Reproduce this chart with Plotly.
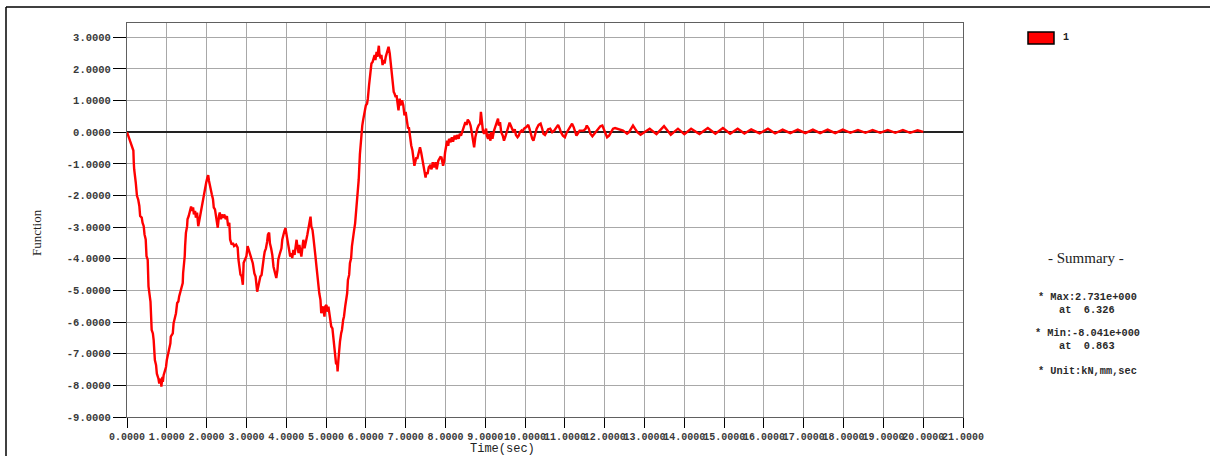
import plotly.graph_objects as go

# Time history of the member force (kN) against time (sec)
time_s = [
    0.00, 0.06, 0.10, 0.14, 0.16, 0.17, 0.18, 0.22, 0.25, 0.28, 0.31, 0.33, 0.37, 0.39, 0.42, 0.44,
    0.47, 0.49, 0.52, 0.54, 0.57, 0.59, 0.62, 0.65, 0.67, 0.70, 0.73, 0.75, 0.79, 0.81, 0.85, 0.863,
    0.89, 0.90, 0.92, 0.95, 0.98, 1.00, 1.04, 1.06, 1.09, 1.10, 1.13, 1.15, 1.17, 1.19, 1.21, 1.23,
    1.26, 1.29, 1.31, 1.34, 1.37, 1.40, 1.41, 1.43, 1.45, 1.46, 1.48, 1.51, 1.52, 1.55, 1.57, 1.61,
    1.63, 1.66, 1.68, 1.71, 1.73, 1.76, 1.79, 1.82, 1.84, 1.87, 1.89, 1.92, 1.94, 1.97, 1.99, 2.02,
    2.04, 2.06, 2.08, 2.11, 2.13, 2.16, 2.18, 2.21, 2.23, 2.26, 2.28, 2.31, 2.33, 2.36, 2.38, 2.42,
    2.44, 2.48, 2.51, 2.54, 2.57, 2.59, 2.63, 2.66, 2.69, 2.74, 2.78, 2.80, 2.83, 2.85, 2.88, 2.91,
    2.93, 2.96, 3.00, 3.03, 3.08, 3.12, 3.16, 3.20, 3.23, 3.27, 3.29, 3.32, 3.35, 3.38, 3.41, 3.44,
    3.46, 3.49, 3.52, 3.54, 3.57, 3.59, 3.62, 3.65, 3.68, 3.70, 3.73, 3.75, 3.78, 3.80, 3.83, 3.85,
    3.88, 3.90, 3.93, 3.95, 3.98, 4.00, 4.03, 4.05, 4.08, 4.10, 4.13, 4.15, 4.18, 4.21, 4.23, 4.26,
    4.28, 4.31, 4.33, 4.36, 4.38, 4.41, 4.43, 4.46, 4.48, 4.51, 4.53, 4.56, 4.58, 4.61, 4.63, 4.66,
    4.68, 4.71, 4.73, 4.76, 4.78, 4.81, 4.83, 4.86, 4.88, 4.91, 4.93, 4.96, 4.98, 5.01, 5.03, 5.06,
    5.08, 5.11, 5.13, 5.16, 5.18, 5.21, 5.23, 5.25, 5.28, 5.29, 5.31, 5.33, 5.35, 5.38, 5.40, 5.43,
    5.45, 5.48, 5.50, 5.53, 5.55, 5.58, 5.60, 5.63, 5.65, 5.68, 5.70, 5.73, 5.75, 5.78, 5.80, 5.82,
    5.85, 5.87, 5.89, 5.91, 5.93, 5.95, 5.97, 6.00, 6.03, 6.05, 6.08, 6.10, 6.13, 6.14, 6.17, 6.19,
    6.22, 6.24, 6.27, 6.29, 6.326, 6.34, 6.37, 6.39, 6.42, 6.45, 6.47, 6.50, 6.52, 6.55, 6.57, 6.60,
    6.62, 6.65, 6.67, 6.70, 6.72, 6.75, 6.77, 6.80, 6.82, 6.85, 6.87, 6.91, 6.94, 6.97, 7.00, 7.03,
    7.06, 7.08, 7.11, 7.14, 7.17, 7.19, 7.22, 7.24, 7.27, 7.29, 7.33, 7.36, 7.39, 7.41, 7.44, 7.46,
    7.50, 7.52, 7.55, 7.58, 7.61, 7.65, 7.68, 7.71, 7.75, 7.78, 7.82, 7.87, 7.90, 7.94, 7.97, 7.99,
    8.02, 8.04, 8.07, 8.09, 8.13, 8.16, 8.19, 8.23, 8.26, 8.29, 8.33, 8.36, 8.39, 8.43, 8.46, 8.50,
    8.53, 8.56, 8.60, 8.63, 8.66, 8.70, 8.72, 8.75, 8.77, 8.80, 8.83, 8.87, 8.89, 8.92, 8.94, 8.97,
    8.99, 9.02, 9.04, 9.07, 9.09, 9.13, 9.15, 9.18, 9.22, 9.25, 9.29, 9.32, 9.34, 9.37, 9.40, 9.44,
    9.47, 9.50, 9.54, 9.57, 9.61, 9.64, 9.67, 9.71, 9.74, 9.77, 9.81, 9.84, 9.87, 9.91, 9.94, 9.97,
    10.03, 10.08, 10.11, 10.14, 10.18, 10.21, 10.24, 10.29, 10.34, 10.39, 10.43, 10.46, 10.50, 10.53,
    10.58, 10.63, 10.68, 10.73, 10.78, 10.83, 10.87, 10.90, 10.95, 11.00, 11.05, 11.10, 11.15, 11.18,
    11.22, 11.25, 11.29, 11.32, 11.37, 11.42, 11.47, 11.52, 11.55, 11.60, 11.64, 11.69, 11.74, 11.79,
    11.84, 11.89, 11.94, 11.97, 12.02, 12.06, 12.11, 12.16, 12.21, 12.26, 12.31, 12.36, 12.41, 12.46,
    12.51, 12.56, 12.61, 12.66, 12.71, 12.76, 12.82, 12.90, 13.04, 13.13, 13.30, 13.49, 13.66, 13.84,
    14.00, 14.17, 14.38, 14.59, 14.78, 14.97, 15.15, 15.34, 15.51, 15.68, 15.89, 16.10, 16.28, 16.47,
    16.66, 16.85, 17.04, 17.23, 17.41, 17.60, 17.79, 17.98, 18.17, 18.36, 18.55, 18.73, 18.92, 19.11,
    19.30, 19.49, 19.67, 19.86, 20.00,
]

force_kn = [
    0.00, -0.21, -0.42, -0.53, -0.58, -0.95, -1.17, -1.59, -2.01, -2.12, -2.33, -2.65, -2.70, -2.86, -2.97, -3.23,
    -3.39, -3.92, -4.03, -4.87, -5.19, -5.35, -6.25, -6.36, -6.57, -7.20, -7.36, -7.63, -7.79, -7.94, -7.79, -8.041,
    -7.73, -7.89, -7.68, -7.57, -7.42, -7.20, -6.99, -6.89, -6.67, -6.46, -6.41, -6.36, -6.04, -5.93, -5.88, -5.72,
    -5.40, -5.35, -5.19, -5.03, -4.93, -4.77, -4.45, -4.24, -3.92, -3.60, -3.18, -2.97, -2.75, -2.65, -2.54, -2.35,
    -2.49, -2.38, -2.60, -2.49, -2.70, -2.54, -2.97, -2.75, -2.60, -2.44, -2.28, -2.12, -1.85, -1.69, -1.59, -1.43,
    -1.36, -1.54, -1.69, -1.80, -1.96, -2.12, -2.38, -2.44, -2.60, -2.75, -3.02, -2.65, -2.54, -2.75, -2.60, -2.70,
    -2.60, -2.75, -2.65, -2.97, -2.86, -3.39, -3.55, -3.50, -3.60, -3.55, -3.65, -4.03, -4.34, -4.50, -4.55, -4.82,
    -4.13, -4.03, -3.92, -3.60, -3.82, -3.98, -4.14, -4.46, -4.56, -5.04, -4.93, -4.77, -4.56, -4.51, -4.14, -3.93,
    -3.77, -3.67, -3.46, -3.24, -3.17, -3.51, -3.67, -3.88, -4.25, -4.35, -4.46, -4.61, -4.35, -4.03, -3.88, -3.82,
    -3.67, -3.40, -3.19, -3.14, -3.03, -3.19, -3.40, -3.56, -3.77, -3.93, -3.82, -3.98, -3.72, -3.88, -3.67, -3.40,
    -3.61, -3.82, -3.56, -3.77, -3.93, -3.61, -3.40, -3.67, -3.51, -3.40, -3.24, -3.03, -2.88, -2.67, -2.98, -3.09,
    -3.30, -3.56, -3.88, -4.25, -4.56, -4.98, -5.09, -5.30, -5.72, -5.51, -5.56, -5.83, -5.51, -5.46, -5.67, -5.51,
    -5.67, -5.83, -6.14, -6.20, -6.46, -6.93, -7.20, -7.30, -7.35, -7.56, -7.20, -6.77, -6.62, -6.35, -6.25, -5.93,
    -5.83, -5.51, -5.30, -5.09, -4.67, -4.51, -4.14, -3.98, -3.61, -3.40, -3.14, -2.88, -2.56, -2.14, -1.66, -1.51,
    -0.70, -0.32, -0.21, 0.21, 0.37, 0.53, 0.69, 0.85, 0.90, 1.06, 1.48, 1.69, 2.01, 2.17, 2.22, 2.33,
    2.44, 2.28, 2.54, 2.38, 2.731, 2.49, 2.33, 2.44, 2.12, 2.28, 2.17, 2.38, 2.49, 2.65, 2.70, 2.49,
    2.22, 1.91, 1.59, 1.27, 1.22, 1.11, 1.17, 0.95, 0.69, 1.06, 0.85, 1.01, 0.85, 0.53, 0.64, 0.37,
    0.11, 0.16, -0.21, -0.42, -0.58, -0.79, -1.06, -0.95, -0.79, -0.85, -0.64, -0.48, -0.64, -0.79, -1.01, -1.17,
    -1.43, -1.27, -1.32, -1.11, -1.06, -1.17, -0.95, -1.11, -0.95, -1.17, -0.90, -0.79, -0.80, -1.06, -0.90, -0.64,
    -0.37, -0.27, -0.43, -0.21, -0.32, -0.16, -0.30, -0.11, -0.23, -0.09, -0.21, -0.05, -0.11, 0.05, 0.16, 0.32,
    0.23, 0.40, 0.32, 0.21, 0.00, -0.37, -0.48, -0.16, 0.00, 0.11, 0.21, 0.27, 0.64, 0.21, 0.05, -0.05,
    0.05, 0.11, -0.11, -0.21, -0.05, -0.27, 0.00, -0.21, 0.05, 0.21, 0.32, 0.43, 0.21, 0.32, 0.00, -0.11,
    -0.27, -0.16, 0.00, 0.16, 0.30, 0.21, 0.11, 0.00, 0.09, -0.09, -0.16, -0.11, 0.00, 0.05, 0.00, 0.11,
    0.16, 0.23, 0.11, -0.05, -0.21, -0.27, -0.11, 0.11, 0.23, 0.27, 0.11, -0.05, -0.09, 0.00,
    0.09, 0.11, 0.00, 0.05, 0.16, 0.23, 0.11, 0.00, -0.11, -0.16, 0.00, 0.11, 0.21, 0.27,
    0.16, 0.00, -0.11, -0.05, 0.05, 0.05, 0.05, 0.11, 0.21, 0.11, -0.05, -0.13, -0.05, 0.05,
    0.11, 0.19, 0.21, 0.11, -0.05, -0.16, -0.11, 0.00, 0.11, 0.13, 0.11, 0.09, 0.09, 0.05,
    0.00, -0.05, 0.00, 0.11, 0.21, 0.11, 0.00, -0.08, 0.02, 0.11, -0.06, 0.19, -0.08, 0.11,
    -0.06, 0.11, -0.06, 0.13, -0.05, 0.13, -0.05, 0.11, -0.04, 0.09, -0.04, 0.11, -0.04, 0.08,
    -0.03, 0.08, -0.03, 0.08, -0.03, 0.08, -0.03, 0.08, -0.02, 0.07, -0.02, 0.07, -0.02, 0.07,
    -0.02, 0.07, -0.02, 0.06, 0.01,
]

x_ticks = list(range(0, 22))
x_tick_labels = [
    "0.0000", "1.0000", "2.0000", "3.0000", "4.0000", "5.0000", "6.0000", "7.0000",
    "8.0000", "9.0000", "10.0000", "11.0000", "12.0000", "13.0000", "14.0000", "15.0000",
    "16.0000", "17.0000", "18.0000", "19.0000", "20.0000", "21.0000",
]
y_ticks = [3, 2, 1, 0, -1, -2, -3, -4, -5, -6, -7, -8, -9]
y_tick_labels = [
    "3.0000", "2.0000", "1.0000", "0.0000", "-1.0000", "-2.0000", "-3.0000",
    "-4.0000", "-5.0000", "-6.0000", "-7.0000", "-8.0000", "-9.0000",
]

series_name = "1"
summary_title = "- Summary -"
summary_lines = [
    "* Max:2.731e+000",
    "at\u00a0\u00a06.326",
    "* Min:-8.041e+000",
    "at\u00a0\u00a00.863",
    "* Unit:kN,mm,sec",
]

# page geometry (pixels)
FIG_W, FIG_H = 1213, 456
L, R, T, B = 127, 963, 23, 417
PW, PH = R - L, B - T


def px(x):
    return (x - L) / PW


def py(y):
    return (B - y) / PH


MONO = "Liberation Mono"
SERIF = "Liberation Serif"

fig = go.Figure()
fig.add_trace(go.Scatter(
    x=time_s, y=force_kn, mode="lines", name=series_name,
    line=dict(color="#ff0000", width=2.4), showlegend=False,
))

grid = "#a8a8a8"
fig.update_xaxes(
    range=[0, 21], tickmode="array", tickvals=x_ticks, ticktext=x_tick_labels,
    tickangle=0, ticks="outside", ticklen=10, tickwidth=1, tickcolor="#000000",
    tickfont=dict(family=MONO, size=10, color="#3a3a3a", weight="bold"),
    showgrid=True, gridcolor=grid, gridwidth=1, zeroline=False,
    showline=True, linecolor="#606060", linewidth=1, mirror=True,
)
fig.update_yaxes(
    range=[-9, 3.45], tickmode="array", tickvals=y_ticks, ticktext=y_tick_labels,
    ticks="outside", ticklen=13, tickwidth=1, tickcolor="#000000",
    tickfont=dict(family=MONO, size=10.5, color="#3a3a3a", weight="bold"),
    showgrid=True, gridcolor=grid, gridwidth=1,
    zeroline=True, zerolinecolor="#222222", zerolinewidth=1.5,
    showline=True, linecolor="#606060", linewidth=1, mirror=True,
)

annotations = [
    dict(text="Time(sec)", x=px(502), y=py(449), xref="paper", yref="paper",
         showarrow=False, xanchor="center", yanchor="middle",
         font=dict(family=MONO, size=12, color="#222222")),
    dict(text="Function", x=px(37), y=py(233), xref="paper", yref="paper",
         showarrow=False, textangle=-90, xanchor="center", yanchor="middle",
         font=dict(family=SERIF, size=13, color="#222222")),
    dict(text=series_name, x=px(1066), y=py(38), xref="paper", yref="paper",
         showarrow=False, xanchor="center", yanchor="middle",
         font=dict(family=MONO, size=10, color="#222222", weight="bold")),
    dict(text=summary_title, x=px(1086), y=py(258), xref="paper", yref="paper",
         showarrow=False, xanchor="center", yanchor="middle",
         font=dict(family=SERIF, size=15, color="#222222")),
]
summary_y = [297, 310, 333, 346, 371]
for line_text, ly in zip(summary_lines, summary_y):
    annotations.append(dict(
        text=line_text, x=px(1087), y=py(ly), xref="paper", yref="paper",
        showarrow=False, xanchor="center", yanchor="middle",
        font=dict(family=MONO, size=10.3, color="#2a2a2a", weight="bold"),
    ))

shapes = [
    # outer frame (top and left edges)
    dict(type="line", xref="paper", yref="paper", x0=px(6), x1=px(1210), y0=py(7), y1=py(7),
         line=dict(color="#000000", width=1.5)),
    dict(type="line", xref="paper", yref="paper", x0=px(6), x1=px(6), y0=py(7), y1=py(470),
         line=dict(color="#000000", width=1.5)),
    # legend swatch
    dict(type="rect", xref="paper", yref="paper", x0=px(1028), x1=px(1054), y0=py(44), y1=py(32),
         fillcolor="#ff0000", line=dict(color="#000000", width=1.5)),
]

fig.update_layout(
    width=FIG_W, height=FIG_H,
    margin=dict(l=L, r=FIG_W - R, t=T, b=FIG_H - B, pad=0),
    paper_bgcolor="#ffffff", plot_bgcolor="#ffffff",
    annotations=annotations, shapes=shapes, showlegend=False,
)

fig.write_html("out.html")
